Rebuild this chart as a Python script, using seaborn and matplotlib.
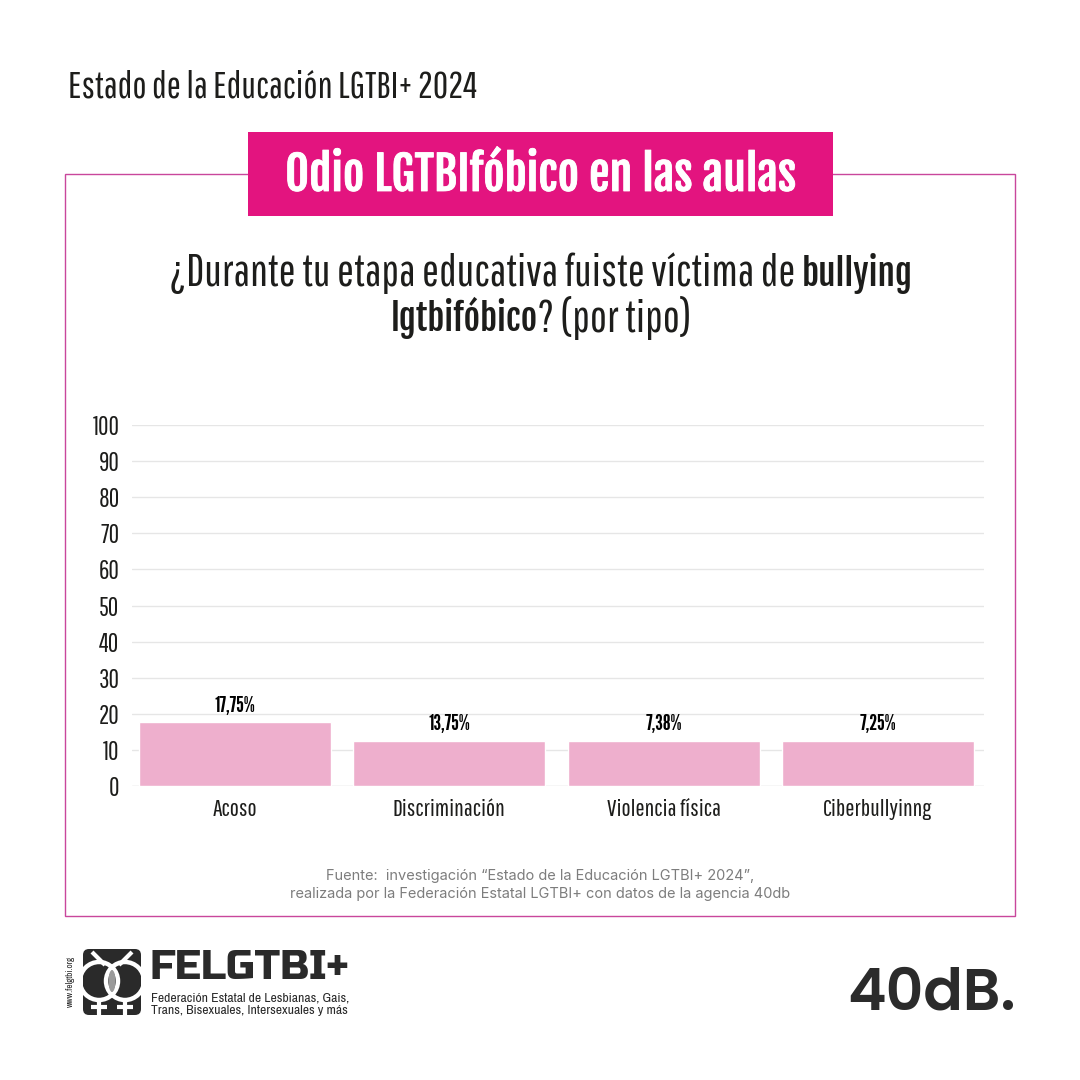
import matplotlib
matplotlib.use('Agg')
import matplotlib.pyplot as plt
import matplotlib.patches as mpatches
import matplotlib.patheffects as pe
import pandas as pd
import seaborn as sns
import logging

logging.getLogger('matplotlib.font_manager').setLevel(logging.ERROR)

# data (bars are drawn shorter than their printed labels)
categorias = ['Acoso', 'Discriminación', 'Violencia física', 'Ciberbullyinng']
alturas = [17.75, 12.6, 12.6, 12.6]
etiquetas = ['17,75%', '13,75%', '7,38%', '7,25%']
ticks_y = [0, 10, 20, 30, 40, 50, 60, 70, 80, 90, 100]

ROSA = '#e3147f'
BARRA = '#eeafcd'
MARCO = '#c9479c'
TINTA = '#1d1d1b'

# first family that is installed wins, the rest are fallbacks
FINA = ['Pathway Gothic One', 'Barlow Condensed', 'DejaVu Sans']
GRUESA = ['Fjalla One', 'League Gothic', 'Barlow Condensed', 'DejaVu Sans']
ESTRECHA = ['League Gothic', 'Barlow Condensed', 'DejaVu Sans']

sns.set_theme(style='white')

fig = plt.figure(figsize=(10.8, 10.8), dpi=100, facecolor='white')

# overlay in pixel coords for the frame, logos and heading
bg = fig.add_axes([0, 0, 1, 1], zorder=0)
bg.set_xlim(0, 1080)
bg.set_ylim(1080, 0)
bg.axis('off')

bg.add_patch(mpatches.Rectangle((65, 174), 950, 742, fill=False, ec=MARCO, lw=1))
bg.add_patch(mpatches.Rectangle((248, 132), 585, 84, fc=ROSA, ec='none', zorder=3))
bg.text(541, 176, 'Odio LGTBIfóbico en las aulas', color='white', family=GRUESA,
        fontsize=33.2, ha='center', va='center', zorder=4,
        path_effects=[pe.withStroke(linewidth=0.6, foreground='white')])
bg.text(68, 87, 'Estado de la Educación LGTBI+ 2024', color=TINTA, family=FINA,
        fontsize=27, ha='left', va='center')


# mixed regular/bold line, centred as a whole
def linea(partes, y):
    fig.canvas.draw()
    r = fig.canvas.get_renderer()
    textos = [bg.text(0, y, s, family=fam, fontsize=size, color=TINTA, ha='left', va='center')
              for s, fam, size in partes]
    # the space at the end of a piece is not measured reliably, so measure with a dot
    anchos = []
    for t, (s, fam, size) in zip(textos, partes):
        t.set_text(s + '.')
        a = t.get_window_extent(r).width
        t.set_text('.')
        a -= t.get_window_extent(r).width
        t.set_text(s)
        anchos.append(a)
    x = 541 - sum(anchos) / 2
    for t, a in zip(textos, anchos):
        t.set_x(x)
        x += a


linea([('¿Durante tu etapa educativa fuiste víctima de ', FINA, 32.3), ('bullying', GRUESA, 25.5)], 273)
linea([('lgtbifóbico', GRUESA, 25.5), ('? (por tipo)', FINA, 32.3)], 318)

bg.text(540, 885, 'Fuente:  investigación “Estado de la Educación LGTBI+ 2024”,\n'
        'realizada por la Federación Estatal LGTBI+ con datos de la agencia 40db',
        family=['Inter', 'DejaVu Sans'], fontsize=10.5, color='#7d7d7d',
        ha='center', va='center', linespacing=1.3)

# chart
ax = fig.add_axes([132 / 1080, 1 - 786 / 1080, 852 / 1080, 361 / 1080], zorder=2)
ax.patch.set_alpha(0)
df = pd.DataFrame({'categoria': categorias, 'altura': alturas})
sns.barplot(data=df, x='categoria', y='altura', color=BARRA, saturation=1, width=0.896, ax=ax, zorder=3)
ax.set_xlim(-0.4806, 3.4946)
ax.set_ylim(0, 100)
ax.set_yticks(ticks_y)
ax.set_xlabel('')
ax.set_ylabel('')
ax.grid(axis='y', color='#e6e6e6', lw=1)
ax.set_axisbelow(True)
sns.despine(ax=ax, left=True, bottom=True, top=True, right=True)
ax.axhline(0, color='#e6e6e6', lw=1, zorder=1)
ax.tick_params(axis='both', length=0, labelcolor=TINTA)
ax.tick_params(axis='y', pad=9)
ax.tick_params(axis='x', pad=9)
for lab in ax.get_yticklabels():
    lab.set_family(FINA)
    lab.set_fontsize(18.5)
for lab in ax.get_xticklabels():
    lab.set_family(FINA)
    lab.set_fontsize(17.5)
for i, (h, e) in enumerate(zip(alturas, etiquetas)):
    ax.text(i, h + 1.7, e, family=ESTRECHA, fontsize=16, color='black',
            ha='center', va='bottom')

# FELGTBI+ logo
OSCURO = '#2a2a2a'
bg.text(70, 981, 'www.felgtbi.org', family=['Archivo Narrow', 'DejaVu Sans'], fontsize=6.5, color=OSCURO,
        rotation=90, ha='center', va='center')
bg.add_patch(mpatches.FancyBboxPatch((83, 949), 58, 66, boxstyle='round,pad=0,rounding_size=6',
                                     fc=OSCURO, ec='none'))
for cx in (99, 125):
    bg.add_patch(mpatches.Circle((cx, 981), 19, fc='none', ec='white', lw=3.2))
bg.add_patch(mpatches.Ellipse((112, 981), 7, 22, fc='#9a9a9a', ec='none'))
for x0, x1 in ((105, 92), (119, 132)):
    bg.plot([x0, x1], [965, 952], color='white', lw=3, solid_capstyle='butt')
for cx in (99, 125):
    bg.plot([cx, cx], [1000, 1015], color='white', lw=3, solid_capstyle='butt')
    bg.plot([cx - 8, cx + 8], [1007, 1007], color='white', lw=3, solid_capstyle='butt')
bg.text(150, 968, 'FELGTBI+', family=['Russo One', 'DejaVu Sans'], fontsize=29.5, color=OSCURO,
        ha='left', va='center')
bg.text(151, 1004, 'Federación Estatal de Lesbianas, Gais,\nTrans, Bisexuales, Intersexuales y más',
        family=['Archivo Narrow', 'DejaVu Sans'], fontsize=9.8, color=OSCURO, ha='left', va='center',
        linespacing=1.12)

# 40dB logo
bg.text(1016, 996, '40dB.', family=['Poppins', 'DejaVu Sans'], weight='semibold', fontsize=42, color='#2b2b2b',
        ha='right', va='center')

fig.savefig('out.png', dpi=100, facecolor='white')
